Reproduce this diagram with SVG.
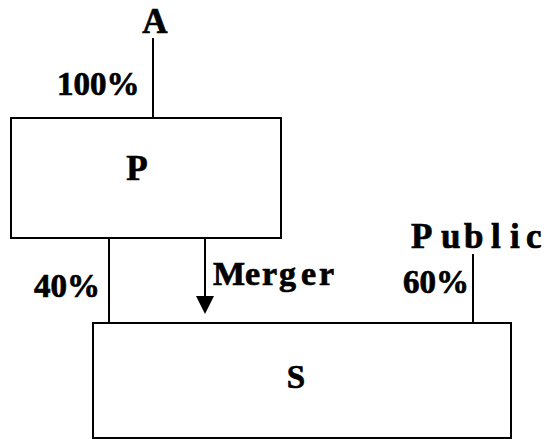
<svg xmlns="http://www.w3.org/2000/svg" width="548" height="439" viewBox="0 0 548 439">
<style>
.box{fill:#fff;stroke:#000;stroke-width:2}
.ln{stroke:#000;stroke-width:2;fill:none}
.t{font-family:"Liberation Serif","Times New Roman",serif;font-weight:bold;fill:#000;stroke:#000;stroke-width:0.7}
</style>
<rect width="548" height="439" fill="#fff"/>
<g id="node-P">
<rect class="box" x="11" y="118" width="270" height="120"/>
<text class="t" x="137" y="180" font-size="35" text-anchor="middle">P</text>
</g>
<g id="node-S">
<rect class="box" x="93" y="323" width="418" height="115"/>
<text class="t" x="296" y="388" font-size="33" text-anchor="middle">S</text>
</g>
<g id="node-A">
<text class="t" x="155" y="33" font-size="35" text-anchor="middle">A</text>
</g>
<g id="node-Public">
<text class="t" y="248" font-size="35"><tspan x="411">P</tspan><tspan x="441">u</tspan><tspan x="464">b</tspan><tspan x="491">l</tspan><tspan x="510">i</tspan><tspan x="526">c</tspan></text>
</g>
<g id="connectors">
<line class="ln" x1="153" y1="38" x2="153" y2="118"/>
<line class="ln" x1="109" y1="238" x2="109" y2="324"/>
<line class="ln" x1="205" y1="238" x2="205" y2="296"/>
<path d="M196,296 L214,296 L205,314 Z" fill="#000"/>
<line class="ln" x1="473" y1="254" x2="473" y2="323"/>
</g>
<g id="labels">
<text class="t" x="57" y="95" font-size="33">100%</text>
<text class="t" x="34" y="297" font-size="33">40%</text>
<text class="t" y="285" font-size="34"><tspan x="213">M</tspan><tspan x="245">e</tspan><tspan x="262">r</tspan><tspan x="279">g</tspan><tspan x="301">e</tspan><tspan x="319">r</tspan></text>
<text class="t" x="403" y="293" font-size="33">60%</text>
</g>
</svg>
